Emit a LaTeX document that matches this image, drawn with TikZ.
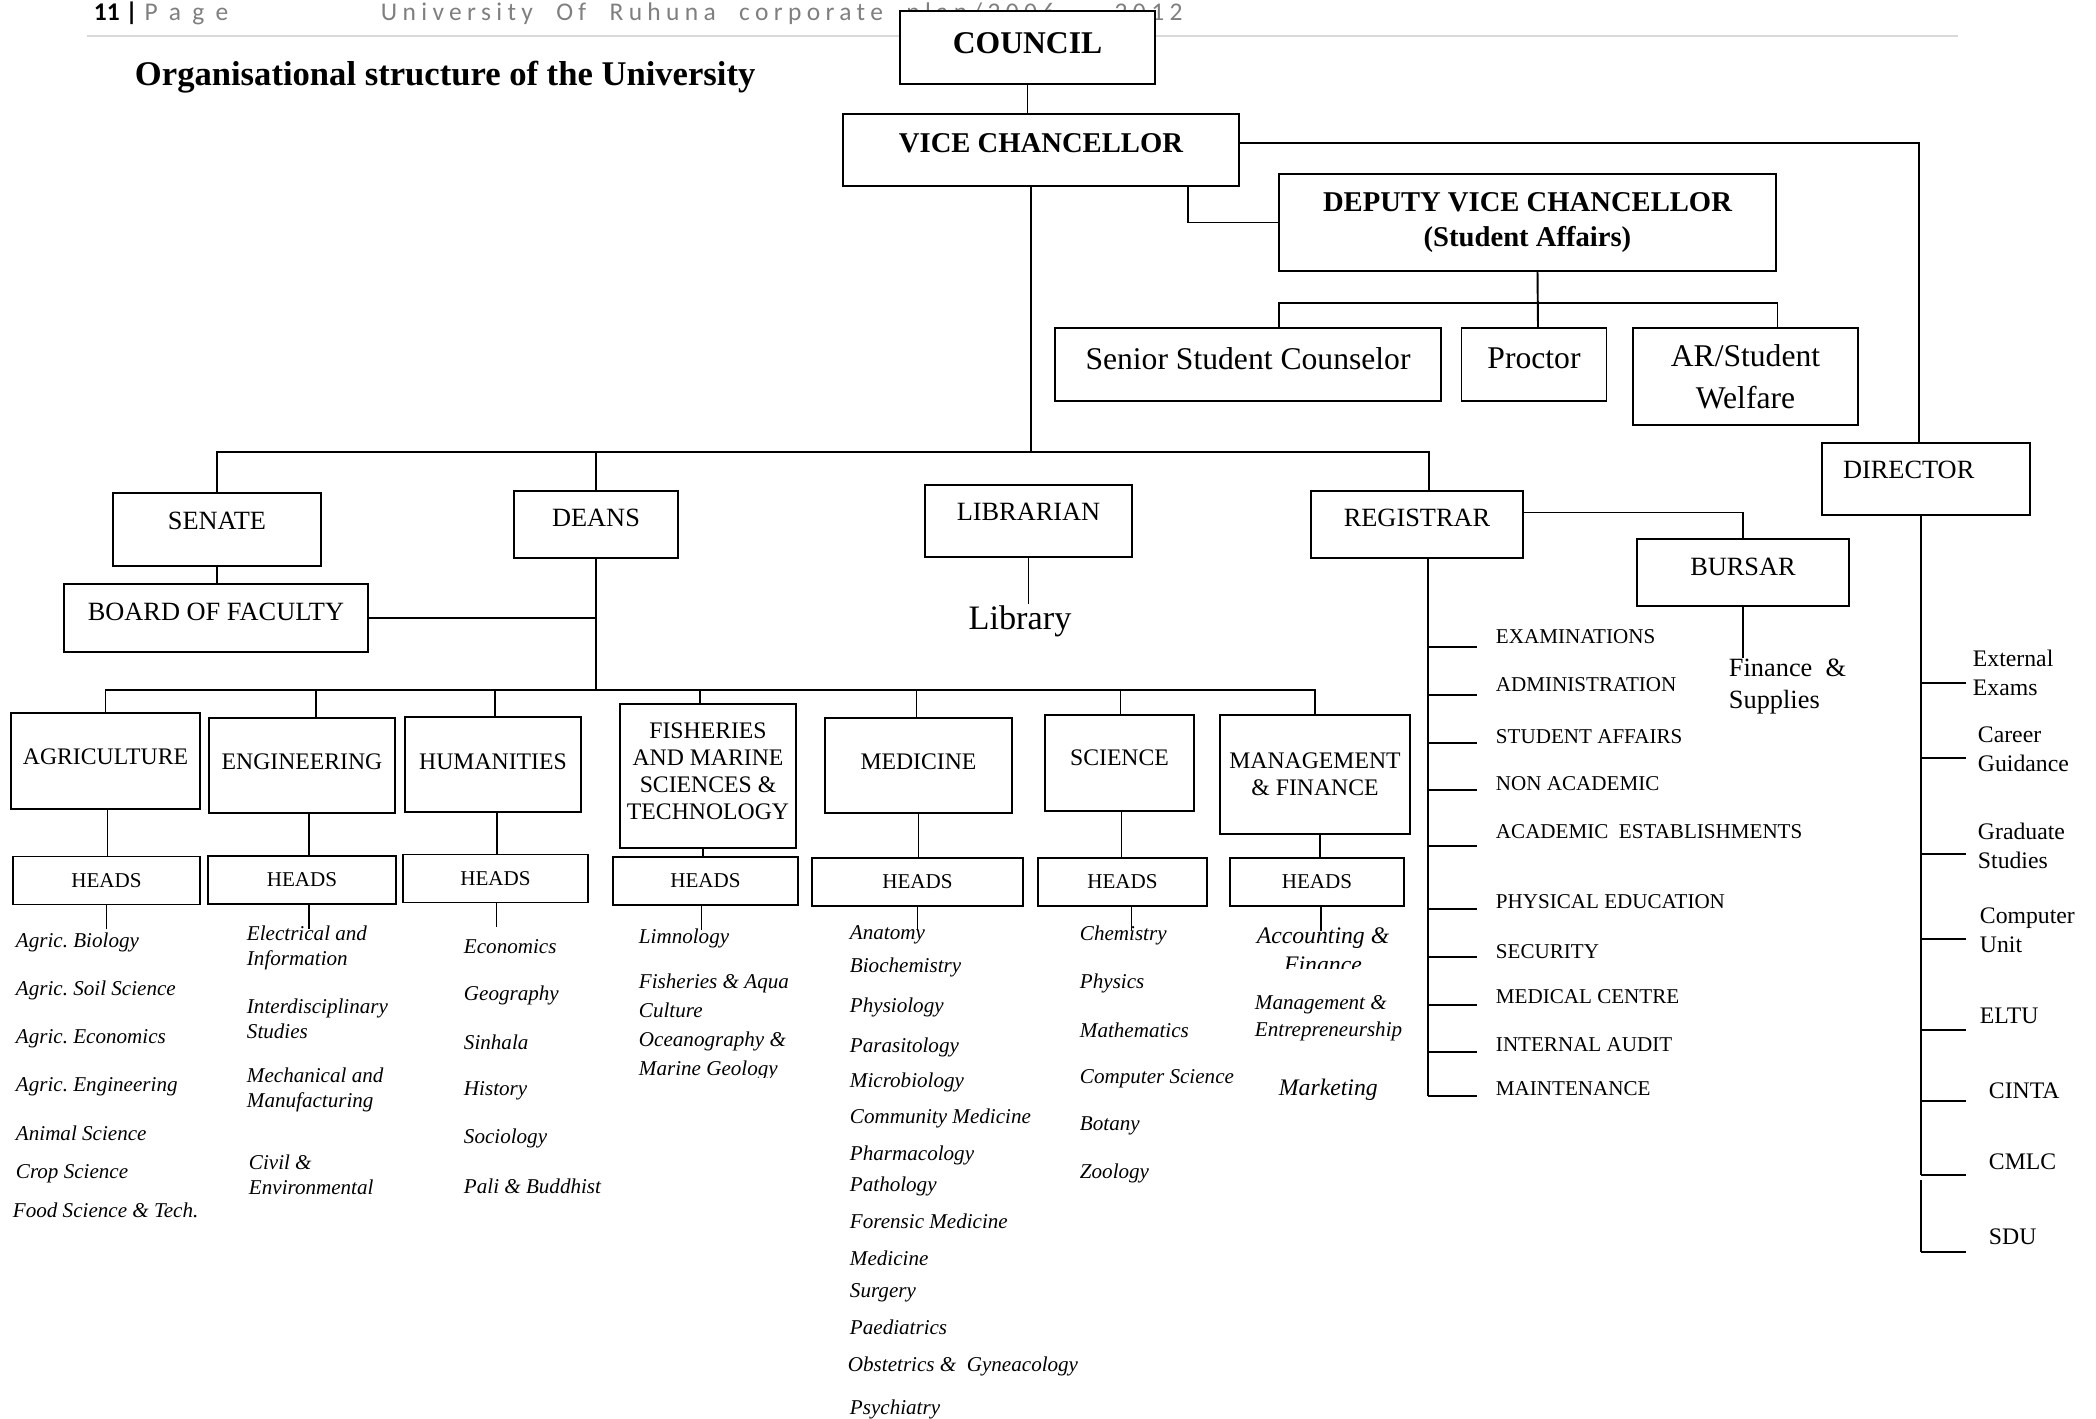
\documentclass[tikz,border=0pt]{standalone}
\usepackage{fontspec}
\setmainfont{Liberation Serif}
\newfontfamily\hdrfont[LetterSpace=21, WordSpace=2.1]{Carlito}
\newfontfamily\pagefont[LetterSpace=45]{Carlito}
\newfontfamily\hdrbold{Carlito}
\usetikzlibrary{calc}
\definecolor{hdrgray}{RGB}{127,127,127}
\definecolor{rulegray}{RGB}{217,217,217}
\frenchspacing

\begin{document}
\begin{tikzpicture}[x=0.02cm, y=-0.02cm, line width=1.1pt,
    orgbox/.style 2 args={draw, fill=white, inner sep=0pt, align=center,
        minimum width=#1*0.02cm, minimum height=#2*0.02cm},
    bigcap/.style={font=\fontsize{15}{18}\selectfont},
    faccap/.style={font=\fontsize{13.5}{15.4}\selectfont},
    subject/.style={anchor=west, inner sep=0pt, align=left,
        font=\fontsize{12}{14.2}\selectfont\itshape},
    office/.style={anchor=west, inner sep=0pt, font=\fontsize{12}{14}\selectfont},
    unititem/.style={anchor=west, inner sep=0pt, align=left,
        font=\fontsize{13.5}{16.4}\selectfont}]
    \useasboundingbox (0,0) rectangle (2096,1419);
    % Page header
    \draw[rulegray, line width=1.7pt] (87,36) -- (1958,36);
    \node[anchor=base west, inner sep=0pt, font=\fontsize{14.5}{17}\selectfont] (pageno)
        at (93,21) {{\hdrbold\bfseries 11 |}\hspace{4pt}\textcolor{hdrgray}{\pagefont Page}};
    \node[anchor=base west, inner sep=0pt, text=hdrgray,
        font=\fontsize{14.5}{17}\selectfont\hdrfont] (plan)
        at (380,21) {University Of Ruhuna corporate plan/2006 – 2012};
    \node[anchor=west, inner sep=0pt, font=\fontsize{19.7}{23}\selectfont\bfseries] (title)
        at (134,77) {Organisational structure of the University};
    % Top offices
    \node[orgbox={255}{73}, font=\fontsize{18}{21}\selectfont\bfseries, text depth=0.16cm]
        (council) at (1027.5,47.5) {COUNCIL};
    \node[orgbox={396}{72}, font=\fontsize{16.3}{19}\selectfont\bfseries, text depth=0.28cm]
        (vc) at (1041,150) {VICE CHANCELLOR};
    \node[orgbox={497}{97}, font=\fontsize{16.3}{19.8}\selectfont\bfseries]
        (dvc) at (1527.5,222.5) {DEPUTY VICE CHANCELLOR\\(Student Affairs)};
    \node[orgbox={386}{73}, font=\fontsize{18}{21}\selectfont, text depth=0.24cm]
        (ssc) at (1248,364.5) {Senior Student Counselor};
    \node[orgbox={145}{73}, font=\fontsize{18}{21}\selectfont, text depth=0.24cm]
        (proctor) at (1534,364.5) {Proctor};
    \node[orgbox={225}{97}, font=\fontsize{18}{23.8}\selectfont]
        (arsw) at (1745.5,376.5) {AR/Student\\Welfare};
    % Second level
    \node[orgbox={208}{73}, bigcap, text depth=0.36cm] (senate) at (217,529.5) {SENATE};
    \node[orgbox={304}{68}, bigcap, text depth=0.24cm] (bof) at (216,618) {BOARD OF FACULTY};
    \node[orgbox={164}{67}, bigcap, text depth=0.28cm] (deans) at (596,524.5) {DEANS};
    \node[orgbox={207}{72}, bigcap, text depth=0.36cm] (librarian) at (1028.5,521) {LIBRARIAN};
    \node[orgbox={212}{67}, bigcap, text depth=0.28cm] (registrar) at (1417,524.5) {REGISTRAR};
    \node[orgbox={212}{67}, bigcap, text depth=0.24cm] (bursar) at (1743,572.5) {BURSAR};
    \node[orgbox={208}{72}, bigcap, text depth=0.36cm, text width=3.32cm, align=left]
        (director) at (1926,479) {DIRECTOR};
    % Faculties
    \node[orgbox={189}{96}, faccap, text depth=0.16cm] (agri) at (105.5,761) {AGRICULTURE};
    \node[orgbox={186}{95}, faccap, text depth=0.16cm] (eng) at (302,765.5) {ENGINEERING};
    \node[orgbox={176}{95}, faccap, text depth=0.12cm] (hum) at (493,764.5) {HUMANITIES};
    \node[orgbox={176}{144}, faccap, text depth=0.2cm] (fish) at (708,776)
        {FISHERIES\\AND MARINE\\SCIENCES \&\\TECHNOLOGY};
    \node[orgbox={187}{95}, faccap, text depth=0.16cm] (med) at (918.5,765.5) {MEDICINE};
    \node[orgbox={149}{96}, faccap, text depth=0.2cm] (sci) at (1119.5,763) {SCIENCE};
    \node[orgbox={190}{119}, faccap] (mgmt) at (1315,774.5) {MANAGEMENT\\\& FINANCE};
    \foreach \hd/\hx/\hy/\hw in {h1/106.5/880.5/187, h2/302/880/188, h3/495.5/878.5/185,
        h4/705.5/881/185, h5/917.5/882/211, h6/1122.5/882/169, h7/1317/882/174}
        \node[orgbox={\hw}{48}, font=\fontsize{12}{14}\selectfont] (\hd) at (\hx,\hy) {HEADS};
    % Connectors
    \draw (council.south) -- (council.south |- vc.north);
    \draw ($(vc.east)+(0,-7)$) -| ($(director.north)+(-7,0)$);
    \draw ($(vc.south east)+(-52,0)$) |- (dvc.west);
    \draw ($(dvc.south)+(10,0)$) -- ($(proctor.north)+(4,0)$);
    \draw ($(ssc.north)+(31,0)$) -- ++(0,-24) -| ($(arsw.north)+(32,0)$);
    \coordinate (mainbus) at (1031,452);
    \draw ($(vc.south)+(-10,0)$) -- (mainbus);
    \draw (senate.north) |- (mainbus) -| ($(registrar.north)+(12,0)$);
    \draw (deans.north) -- (deans.north |- mainbus);
    \draw (senate.south) -- (senate.south |- bof.north);
    \draw (bof.east) -- (bof.east -| deans.south);
    \coordinate (facbus) at (596,690);
    \draw (deans.south) -- (facbus);
    \draw (agri.north) |- (facbus) -| (mgmt.north);
    \foreach \f/\o in {eng/14, hum/2, fish/-8, med/-2, sci/1}
        \draw ([xshift=\o*0.02cm]\f.north) -- ([xshift=\o*0.02cm]\f.north |- facbus);
    \foreach \f/\h/\o/\p in {agri/h1/2/0, eng/h2/7/7, hum/h3/4/1, fish/h4/-5/-4,
        med/h5/0/0, sci/h6/2/9, mgmt/h7/5/4} {
        \draw ([xshift=\o*0.02cm]\f.south) -- ([xshift=\o*0.02cm]\f.south |- \h.north);
        \draw ([xshift=\p*0.02cm]\h.south) -- ++(0,24);
    }
    % Library and bursar
    \node[inner sep=0pt, font=\fontsize{19.5}{23}\selectfont] (library) at (1020,621) {Library};
    \draw (librarian.south) -- (librarian.south |- library.north);
    \draw ($(registrar.east)+(0,-12)$) -| (bursar.north);
    \node[anchor=west, inner sep=0pt, align=left, font=\fontsize{15}{18.7}\selectfont]
        (finance) at (1728,686.5) {Finance\ \ \&\\Supplies};
    \draw (bursar.south) -- (bursar.south |- finance.north);
    % Registrar divisions
    \coordinate (regtrunk) at ($(registrar.south)+(11,0)$);
    \draw (regtrunk) -- (regtrunk |- 0,1096);
    \foreach \txt/\ty/\ky [count=\i] in {EXAMINATIONS/637/647, ADMINISTRATION/685/695,
        STUDENT AFFAIRS/737/743, NON ACADEMIC/784/790,
        ACADEMIC\ \ ESTABLISHMENTS/832/846, PHYSICAL EDUCATION/902/909,
        SECURITY/952/957, MEDICAL CENTRE/997/1005, INTERNAL AUDIT/1045/1052,
        MAINTENANCE/1089/1096} {
        \node[office] (office\i) at (1495,\ty) {\txt};
        \draw (regtrunk |- 0,\ky) -- ++(49,0);
    }
    % Director units
    \coordinate (dirtrunk) at ($(director.south)+(-5,0)$);
    \draw (dirtrunk) -- (dirtrunk |- 0,1175);
    \draw (dirtrunk |- 0,1180) -- (dirtrunk |- 0,1252);
    \foreach \txt/\tx/\ty/\ky [count=\i] in {External\\Exams/1972/672.5/683,
        Career\\Guidance/1977/749/758, Graduate\\Studies/1977/846/854,
        Computer\\Unit/1979/930/939, ELTU/1979/1016/1030, CINTA/1988/1091/1101,
        CMLC/1988/1162/1175, SDU/1988/1237/1252} {
        \node[unititem] (unit\i) at (\tx,\ty) {\txt};
        \draw (dirtrunk |- 0,\ky) -- ++(45,0);
    }
    % Departments
    \foreach \txt/\tx/\ty [count=\i] in {Agric. Biology/15/942, Agric. Soil Science/15/990,
        Agric. Economics/15/1039, Agric. Engineering/15/1087, Animal Science/15/1133,
        Crop Science/15/1174, Food Science \& Tech./12/1210,
        Electrical and\\Information/246/947.5, Interdisciplinary\\Studies/246/1018.5,
        Mechanical and\\Manufacturing/246/1090, Civil \&\\Environmental/248/1175,
        Economics/463/947, Geography/463/995, Sinhala/463/1042, History/463/1091,
        Sociology/463/1138, Pali \& Buddhist/463/1186, Limnology/638/938,
        Anatomy/849/935, Biochemistry/849/967, Physiology/849/1007,
        Parasitology/849/1047, Microbiology/849/1082, Community Medicine/849/1118,
        Pharmacology/849/1155, Pathology/849/1186, Forensic Medicine/849/1221,
        Medicine/849/1258, Surgery/849/1293, Paediatrics/849/1327,
        Obstetrics \&\ \ Gyneacology/847/1366, Psychiatry/849/1409,
        Chemistry/1079/935, Physics/1079/983, Mathematics/1079/1030,
        Computer Science/1079/1079, Botany/1079/1126, Zoology/1079/1173}
        \node[subject] (dept\i) at (\tx,\ty) {\txt};
    \node[subject, font=\fontsize{12}{16.4}\selectfont\itshape] (aqua)
        at (638,995.5) {Fisheries \& Aqua\\Culture};
    \begin{scope}
        \clip (600,1000) rectangle (900,1077);
        \node[subject, font=\fontsize{12}{16}\selectfont\itshape] (ocean)
            at (638,1056) {Oceanography \&\\Marine Geology};
    \end{scope}
    \begin{scope}
        \clip (1230,915) rectangle (1420,968);
        \node[inner sep=0pt, align=center, font=\fontsize{13.5}{16.4}\selectfont\itshape]
            (accounting) at (1323,950.5) {Accounting \&\\Finance};
    \end{scope}
    \node[subject, font=\fontsize{12}{15.3}\selectfont\itshape] (entre)
        at (1254,1018.5) {Management \&\\Entrepreneurship};
    \node[subject, font=\fontsize{13.5}{16}\selectfont\itshape] (marketing)
        at (1278,1090) {Marketing};
\end{tikzpicture}
\end{document}
